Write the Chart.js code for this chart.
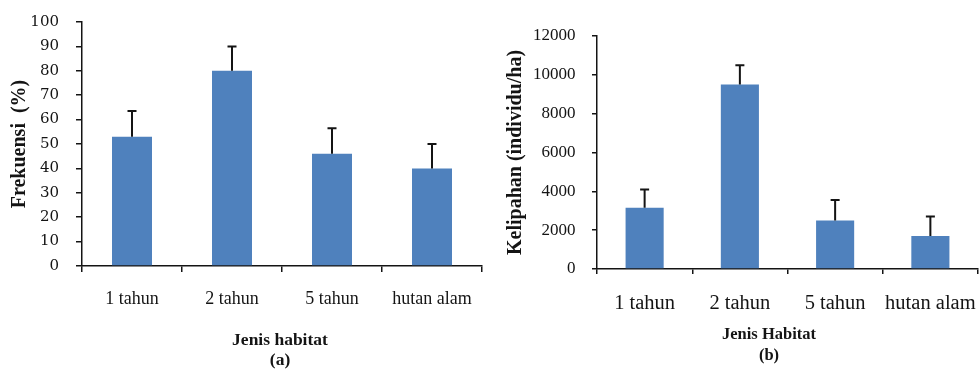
<!DOCTYPE html>
<html>
<head>
<meta charset="utf-8">
<script src="https://cdn.jsdelivr.net/npm/chart.js@4/dist/chart.umd.min.js"></script>
<style>
  html, body { margin: 0; padding: 0; background: #fff; }
  #wrap { position: relative; width: 980px; height: 370px; overflow: hidden; }
  #wrap canvas { position: absolute; top: 0; }
  #chartA { left: 0; }
  #chartB { left: 490px; }
</style>
</head>
<body>
<div id="wrap">
  <canvas id="chartA" width="490" height="370"></canvas>
  <canvas id="chartB" width="490" height="370"></canvas>
</div>
<script>
// Habitat categories shared by both panels
const habitats = ['1 tahun', '2 tahun', '5 tahun', 'hutan alam'];

// Panel (a): frequency (%) and its error (upper bar only)
const frekuensi = [53, 80, 46, 40];
const frekuensiErr = [10.5, 10, 10.5, 10];
const frekuensiTicks = { min: 0, max: 100, step: 10 };

// Panel (b): abundance (individuals/ha) and its error
const kelimpahan = [3150, 9500, 2500, 1700];
const kelimpahanErr = [950, 1000, 1050, 1000];
const kelimpahanTicks = { min: 0, max: 12000, step: 2000 };

const SERIF = '"Liberation Serif", "Times New Roman", serif';
const WIDE_SERIF = '"DejaVu Serif", serif';
const INK = '#141414';
const BAR_BLUE = '#4f81bd';

// Upward error bars with a cap, drawn from the data through the chart scales
const errorBars = {
  id: 'errorBars',
  afterDatasetsDraw(chart, args, opts) {
    const { ctx, scales } = chart;
    const y = scales.y;
    const meta = chart.getDatasetMeta(0);
    const data = chart.data.datasets[0].data;
    ctx.save();
    ctx.strokeStyle = opts.color;
    ctx.lineWidth = opts.width;
    meta.data.forEach((bar, i) => {
      const base = y.getPixelForValue(data[i]);
      const top = y.getPixelForValue(data[i] + opts.values[i]);
      ctx.beginPath();
      ctx.moveTo(bar.x, base);
      ctx.lineTo(bar.x, top);
      ctx.moveTo(bar.x - opts.cap / 2, top);
      ctx.lineTo(bar.x + opts.cap / 2, top);
      ctx.stroke();
    });
    ctx.restore();
  }
};

// Axis caption under the category labels (title + panel letter)
const caption = {
  id: 'caption',
  afterDraw(chart, args, opts) {
    const { ctx, chartArea } = chart;
    const cx = (chartArea.left + chartArea.right) / 2 + opts.shift;
    ctx.save();
    ctx.fillStyle = INK;
    ctx.textAlign = 'center';
    ctx.textBaseline = 'middle';
    opts.lines.forEach((line, i) => {
      ctx.font = 'bold ' + opts.sizes[i] + 'px ' + SERIF;
      ctx.fillText(line, cx, opts.ys[i]);
    });
    ctx.restore();
  }
};

function makeChart(canvasId, cfg) {
  return new Chart(document.getElementById(canvasId), {
    type: 'bar',
    data: {
      labels: habitats,
      datasets: [{
        data: cfg.values,
        backgroundColor: BAR_BLUE,
        borderWidth: 0,
        categoryPercentage: 1,
        barPercentage: 0.4
      }]
    },
    options: {
      responsive: false,
      animation: false,
      events: [],
      layout: { padding: cfg.padding },
      plugins: {
        legend: { display: false },
        tooltip: { enabled: false },
        errorBars: { values: cfg.errors, color: INK, width: 2, cap: 9 },
        caption: cfg.caption
      },
      scales: {
        x: {
          afterFit(scale) {
            scale.height = cfg.xHeight;
            scale.paddingLeft = 0;
            scale.paddingRight = 0;
          },
          grid: {
            offset: true,
            drawOnChartArea: false,
            drawTicks: true,
            tickLength: cfg.tickLen,
            color: INK,
            lineWidth: 1.5
          },
          border: { display: true, color: INK, width: 1.5 },
          ticks: {
            color: INK,
            padding: cfg.xLabelPad,
            maxRotation: 0,
            autoSkip: false,
            font: { family: SERIF, size: cfg.xLabelSize }
          }
        },
        y: {
          min: cfg.ticks.min,
          max: cfg.ticks.max,
          afterFit(scale) {
            scale.width = cfg.yWidth;
            scale.paddingTop = 0;
            scale.paddingBottom = 0;
          },
          grid: {
            drawOnChartArea: false,
            drawTicks: true,
            tickLength: cfg.tickLen,
            color: INK,
            lineWidth: 1.5
          },
          border: { display: true, color: INK, width: 1.5 },
          ticks: {
            stepSize: cfg.ticks.step,
            autoSkip: false,
            color: INK,
            padding: cfg.yLabelPad,
            font: cfg.yLabelFont,
            callback: (value) => String(value)
          },
          title: {
            display: true,
            text: cfg.yTitle,
            color: INK,
            padding: { top: cfg.yTitlePad, bottom: 0 },
            font: { family: SERIF, size: 20, weight: 'bold', lineHeight: 1.2 }
          }
        }
      }
    },
    plugins: [errorBars, caption]
  });
}

makeChart('chartA', {
  values: frekuensi,
  errors: frekuensiErr,
  ticks: frekuensiTicks,
  yTitle: 'Frekuensi  (%)',
  padding: { top: 22, right: 8, left: 0, bottom: 0 },
  xHeight: 104,
  yWidth: 82,
  tickLen: 6,
  xLabelPad: 16,
  xLabelSize: 18,
  yLabelPad: 17,
  yLabelFont: { family: WIDE_SERIF, size: 15 },
  yTitlePad: 7.5,
  caption: { lines: ['Jenis habitat', '(a)'], sizes: [17.5, 17.5], ys: [340.5, 360.5], shift: -2 }
});

makeChart('chartB', {
  values: kelimpahan,
  errors: kelimpahanErr,
  ticks: kelimpahanTicks,
  yTitle: 'Kelipahan (individu/ha)',
  padding: { top: 36, right: 2, left: 0, bottom: 0 },
  xHeight: 101,
  yWidth: 107,
  tickLen: 5,
  xLabelPad: 17,
  xLabelSize: 20.5,
  yLabelPad: 16.5,
  yLabelFont: { family: SERIF, size: 17 },
  yTitlePad: 14,
  caption: { lines: ['Jenis Habitat', '(b)'], sizes: [16.5, 16.5], ys: [335, 356], shift: -18.5 }
});
</script>
</body>
</html>
